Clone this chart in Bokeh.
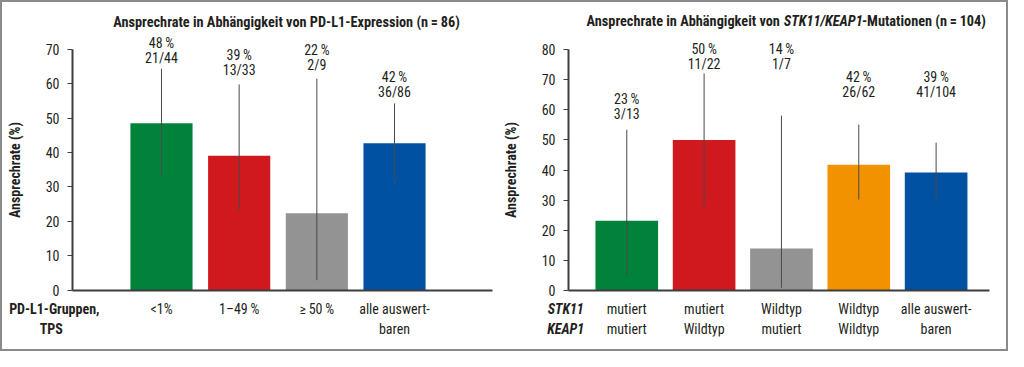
from bokeh.plotting import figure
from bokeh.layouts import row
from bokeh.models import Range1d, FixedTicker, ColumnDataSource, LabelSet, Label
from bokeh.core.properties import value
from bokeh.embed import file_html
from bokeh.resources import INLINE

# ---------------- data: left panel (PD-L1) ----------------
groups_l = ["<1%", "1\u201349\u2009%", "\u2265\u200950\u2009%", "alle auswert-\nbaren"]
rates_l = [48.5, 39.1, 22.4, 42.7]
ci_low_l = [33.0, 23.3, 2.9, 31.5]
ci_high_l = [64.4, 59.8, 61.5, 54.3]
pct_text_l = ["48\u2009%", "39\u2009%", "22\u2009%", "42\u2009%"]
frac_text_l = ["21/44", "13/33", "2/9", "36/86"]
label_y_l = [67.6, 64.1, 65.4, 57.5]
colors_l = ["#00823a", "#d0191f", "#939393", "#0051a2"]
yticks_l = [0, 10, 20, 30, 40, 50, 60, 70]

# ---------------- data: right panel (STK11/KEAP1) ----------------
groups_r = ["mutiert\nmutiert", "mutiert\nWildtyp", "Wildtyp\nmutiert", "Wildtyp\nWildtyp", "alle auswert-\nbaren"]
rates_r = [23.2, 50.0, 13.9, 41.8, 39.2]
ci_low_r = [5.0, 27.9, 0.9, 30.2, 29.7]
ci_high_r = [53.4, 72.1, 58.1, 55.1, 49.1]
pct_text_r = ["23\u2009%", "50\u2009%", "14\u2009%", "42\u2009%", "39\u2009%"]
frac_text_r = ["3/13", "11/22", "1/7", "26/62", "41/104"]
label_y_r = [58.6, 75.2, 75.2, 65.8, 65.8]
colors_r = ["#00823a", "#d0191f", "#939393", "#f39200", "#0051a2"]
yticks_r = [0, 10, 20, 30, 40, 50, 60, 70, 80]

FONT = "Roboto Condensed, DejaVu Sans Condensed, Liberation Sans Narrow, Roboto"
TXT = "#231f20"
AXC = "#3d3d3d"
FS = "14px"
FS_TITLE = "14.3px"


def panel(width, height, xr, yr, x_axis_start, x_axis_end, yticks, ymax, groups, rates,
          lo, hi, pct, frac, label_y, colors, bar_w):
    n = len(groups)
    xs = list(range(n))
    p = figure(width=width, height=height, x_range=Range1d(*xr), y_range=Range1d(*yr),
               output_backend="svg", toolbar_location=None, tools="",
               min_border_left=0, min_border_right=0,
               min_border_top=1, min_border_bottom=13)
    p.outline_line_color = None
    p.grid.visible = False
    p.background_fill_color = "white"
    p.border_fill_color = "white"

    line1 = [g.split("\n")[0] for g in groups]
    line2 = [(g.split("\n") + [""])[1] for g in groups]
    src = ColumnDataSource(dict(x=xs, rate=rates, lo=lo, hi=hi, pct=pct, frac=frac,
                                ly=label_y, color=colors, l1=line1, l2=line2,
                                zero=[0] * n))
    p.vbar(x="x", top="rate", bottom=0, width=bar_w, color="color", line_color=None, source=src)
    p.segment(x0="x", y0="lo", x1="x", y1="hi", line_color="#4a4a4a", line_width=1, source=src)

    common = dict(source=src, text_align="center", text_baseline="middle",
                  text_font=value(FONT), text_font_size=FS, text_color=TXT)
    p.add_layout(LabelSet(x="x", y="ly", text="frac", **common))
    p.add_layout(LabelSet(x="x", y="ly", text="pct", y_offset=15, **common))
    p.add_layout(LabelSet(x="x", y="zero", text="l1", y_offset=-19, **common))
    p.add_layout(LabelSet(x="x", y="zero", text="l2", y_offset=-39, **common))

    # y axis, pinned at the start of the x axis
    p.yaxis.fixed_location = x_axis_start
    p.yaxis.ticker = FixedTicker(ticks=yticks)
    p.yaxis.bounds = (0, ymax)
    p.yaxis.axis_label = "Ansprechrate (%)"
    p.yaxis.axis_label_text_font = FONT
    p.yaxis.axis_label_text_font_style = "bold"
    p.yaxis.axis_label_text_font_size = FS
    p.yaxis.axis_label_text_color = TXT
    p.yaxis.axis_label_standoff = 20
    p.yaxis.major_label_text_font = FONT
    p.yaxis.major_label_text_font_size = FS
    p.yaxis.major_label_text_color = TXT
    p.yaxis.major_label_standoff = 8
    p.yaxis.major_tick_out = 5
    p.yaxis.major_tick_in = 0
    p.yaxis.minor_tick_out = 0
    p.yaxis.minor_tick_in = 0
    p.yaxis.major_tick_line_color = AXC
    p.yaxis.axis_line_color = AXC
    p.yaxis.axis_line_width = 2

    # x axis: baseline at y = 0, labels drawn as LabelSets
    p.xaxis.ticker = FixedTicker(ticks=[])
    p.xaxis.fixed_location = 0
    p.xaxis.bounds = (x_axis_start, x_axis_end)
    p.xaxis.major_tick_out = 0
    p.xaxis.major_tick_in = 0
    p.xaxis.minor_tick_out = 0
    p.xaxis.minor_tick_in = 0
    p.xaxis.axis_line_color = AXC
    p.xaxis.axis_line_width = 2
    return p


def lab(p, x, y, text, align="center", style="bold", yoff=0, size=FS):
    p.add_layout(Label(x=x, y=y, text=text, text_align=align, text_baseline="middle",
                       y_offset=yoff, text_font=FONT, text_font_style=style,
                       text_font_size=size, text_color=TXT))


# left panel
p1 = panel(502, 347, (-2.047, 4.416), (-13.46, 83.34), -1.146, 4.26, yticks_l, 70,
           groups_l, rates_l, ci_low_l, ci_high_l, pct_text_l, frac_text_l, label_y_l,
           colors_l, 0.8)
lab(p1, 1.61, 78.1, "Ansprechrate in Abh\u00e4ngigkeit von PD-L1-Expression (n\u2009=\u200986)",
    size=FS_TITLE)
lab(p1, -1.38, 0, "PD-L1-Gruppen,", yoff=-19)
lab(p1, -1.42, 0, "TPS", yoff=-39)

# right panel
p2 = panel(502, 347, (-1.581, 4.910), (-15.3, 95.35), -0.754, 4.689, yticks_r, 80,
           groups_r, rates_r, ci_low_r, ci_high_r, pct_text_r, frac_text_r, label_y_r,
           colors_r, 0.81)
lab(p2, 1.98, 89.4, "Ansprechrate in Abh\u00e4ngigkeit von", align="right", size=FS_TITLE)
lab(p2, 2.03, 89.4, "STK11/KEAP1", align="left", style="bold italic", size=FS_TITLE)
lab(p2, 3.04, 89.4, "-Mutationen (n\u2009=\u2009104)", align="left", size=FS_TITLE)
lab(p2, -0.79, 0, "STK11", style="bold italic", yoff=-19)
lab(p2, -0.79, 0, "KEAP1", style="bold italic", yoff=-39)

layout = row(p1, p2, styles={"border": "2px solid #8a8a8a"})

open("out.html", "w").write(file_html(layout, INLINE))
